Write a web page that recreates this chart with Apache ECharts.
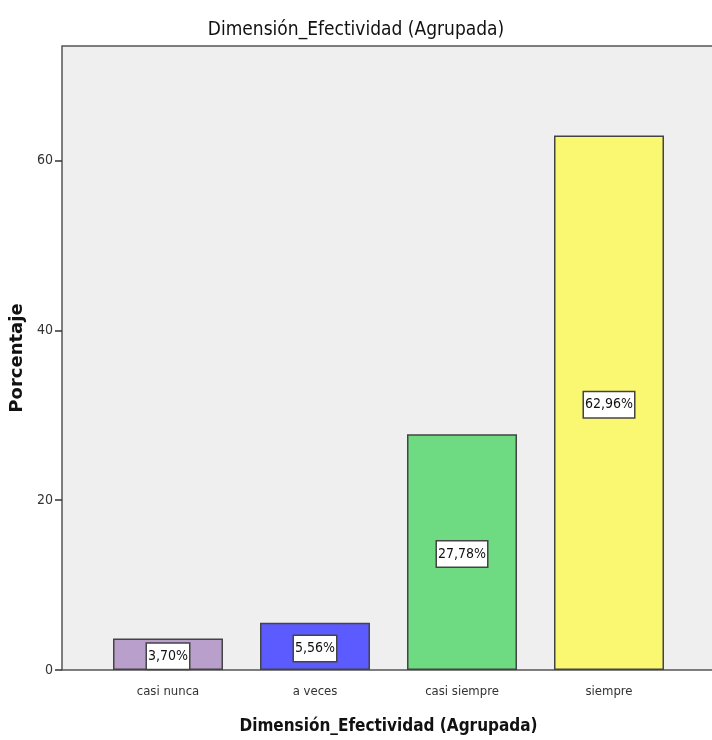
<!DOCTYPE html>
<html>
<head>
<meta charset="utf-8">
<script src="https://cdn.jsdelivr.net/npm/echarts@6/dist/echarts.min.js"></script>
<style>
  html, body { margin: 0; padding: 0; background: #ffffff; }
  #chart { width: 712px; height: 740px; }
</style>
</head>
<body>
<div id="chart"></div>
<script>
// datos del gráfico
var categorias = ["casi nunca", "a veces", "casi siempre", "siempre"];
var porcentajes = [3.70, 5.56, 27.78, 62.96];
var colores = ["#b89fcc", "#5b5bff", "#6edb82", "#faf771"];
var yTicks = [0, 20, 40, 60];

var chart = echarts.init(document.getElementById("chart"));
var narrow = "'DejaVu Sans Condensed', sans-serif";

var option = {
  animation: false,
  backgroundColor: "#ffffff",
  title: {
    text: "Dimensión_Efectividad (Agrupada)",
    left: "center",
    top: 16,
    textStyle: { fontFamily: narrow, fontSize: 19, fontWeight: "normal", color: "#111" }
  },
  // marco del área de trazado
  graphic: [{
    type: "rect",
    z: -10,
    shape: { x: 62, y: 46, width: 680, height: 624 },
    style: { fill: "#efefef", stroke: "#555", lineWidth: 1.5 }
  }],
  grid: { left: 94.5, right: 29.5, top: 46, bottom: 70, outerBoundsMode: "none" },
  xAxis: {
    type: "category",
    data: categorias,
    name: "Dimensión_Efectividad (Agrupada)",
    nameLocation: "middle",
    nameGap: 48,
    nameTextStyle: { fontFamily: narrow, fontSize: 17, fontWeight: "bold", color: "#111" },
    axisLine: { show: false },
    axisTick: { alignWithLabel: true, length: 9, lineStyle: { color: "#333", width: 1.5 } },
    axisLabel: { fontFamily: narrow, fontSize: 13, color: "#333", margin: 15 }
  },
  yAxis: {
    type: "value",
    min: 0,
    max: 73.5,
    interval: 20,
    offset: 32.5,
    name: "Porcentaje",
    nameLocation: "middle",
    nameGap: 36,
    nameTextStyle: { fontFamily: "'DejaVu Sans', sans-serif", fontSize: 18, fontWeight: "bold", color: "#111" },
    splitLine: { show: false },
    axisLine: { show: false },
    axisTick: { show: true, length: 7, customValues: yTicks, lineStyle: { color: "#333", width: 1.5 } },
    axisLabel: { fontFamily: narrow, fontSize: 14, color: "#333", margin: 9, customValues: yTicks }
  },
  series: [{
    type: "bar",
    barWidth: 110,
    data: porcentajes.map(function (v, i) {
      return { value: v, itemStyle: { color: colores[i] } };
    }),
    itemStyle: { borderColor: "#444", borderWidth: 1.5 },
    label: {
      show: true,
      position: "inside",
      offset: [0, 2],
      formatter: function (p) { return p.value.toFixed(2).replace(".", ",") + "%"; },
      fontFamily: narrow,
      fontSize: 14,
      color: "#111",
      backgroundColor: "#ffffff",
      borderColor: "#444",
      borderWidth: 1.5,
      padding: [6, 1, 5, 1]
    }
  }]
};
chart.setOption(option);
</script>
</body>
</html>
